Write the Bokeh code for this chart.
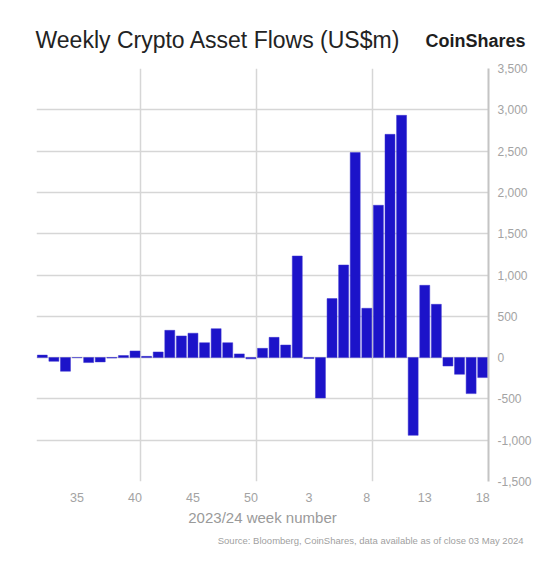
from bokeh.plotting import figure
from bokeh.models import FixedTicker, NumeralTickFormatter, Label, Range1d, ColumnDataSource, Title
from bokeh.embed import file_html
from bokeh.resources import INLINE

# ---- data ----
weeks = [32, 33, 34, 35, 36, 37, 38, 39, 40, 41, 42, 43, 44, 45, 46, 47, 48, 49, 50, 51, 52,
         1, 2, 3, 4, 5, 6, 7, 8, 9, 10, 11, 12, 13, 14, 15, 16, 17, 18]
flows = [30, -45, -165, 0, -60, -52, -5, 25, 80, 15, 68, 330, 262, 295, 180, 350, 180, 45, -15, 112, 245,
         152, 1230, -12, -489, 714, 1121, 2482, 597, 1844, 2703, 2933, -941, 875, 645, -102, -202, -436, -242]
tick_weeks = [35, 40, 45, 50, 3, 8, 13, 18]
y_ticks = [-1500, -1000, -500, 0, 500, 1000, 1500, 2000, 2500, 3000, 3500]
title_text = "Weekly Crypto Asset Flows (US$m)"
brand_text = "CoinShares"
x_title = "2023/24 week number"
source_text = "Source: Bloomberg, CoinShares, data available as of close 03 May 2024"

idx = list(range(len(weeks)))
src = ColumnDataSource(dict(x=idx, top=flows, week=weeks))

tick_idx = []
for w in tick_weeks:
    cands = [i for i, wk in enumerate(weeks) if wk == w]
    tick_idx.append(cands[0])

FONT = "Liberation Sans"
GRID = "#d6d6d6"
LABEL = "#a3a3a3"

p = figure(width=552, height=553, output_backend="svg", toolbar_location=None,
           y_axis_location="right",
           x_range=Range1d(-0.5, len(weeks) - 0.5), y_range=Range1d(-1500, 3500),
           min_border_left=36, min_border_right=64, min_border_top=68, min_border_bottom=72)
p.frame_width = 452
p.frame_height = 413
p.outline_line_color = None
p.background_fill_color = "white"
p.border_fill_color = "white"

p.vbar(x="x", top="top", bottom=0, width=0.86, source=src,
       fill_color="#1c13c9", line_color="#3a33d0", line_width=0.5)

ya = p.yaxis[0]
ya.ticker = FixedTicker(ticks=y_ticks)
ya.formatter = NumeralTickFormatter(format="0,0")
ya.axis_line_color = "#c4c4c4"
ya.axis_line_width = 2
ya.major_tick_line_color = None
ya.minor_tick_line_color = None
ya.major_label_standoff = 3
ya.major_label_text_color = LABEL
ya.major_label_text_font = FONT
ya.major_label_text_font_size = "12px"

xa = p.xaxis[0]
xa.ticker = FixedTicker(ticks=tick_idx)
xa.major_label_overrides = {i: str(weeks[i]) for i in tick_idx}
xa.axis_line_color = None
xa.major_tick_line_color = None
xa.minor_tick_line_color = None
xa.major_label_standoff = 5
xa.major_label_text_color = LABEL
xa.major_label_text_font = FONT
xa.major_label_text_font_size = "12.5px"
xa.axis_label = x_title
xa.axis_label_text_color = "#9a9a9a"
xa.axis_label_text_font = FONT
xa.axis_label_text_font_size = "15px"
xa.axis_label_text_font_style = "normal"
xa.axis_label_standoff = 4

p.ygrid.ticker = FixedTicker(ticks=y_ticks)
p.ygrid.grid_line_color = GRID
p.ygrid.grid_line_width = 1.5
p.xgrid.ticker = FixedTicker(ticks=[8.5, 18.5, 28.5])
p.xgrid.grid_line_color = GRID
p.xgrid.grid_line_width = 1.5

p.title.text = title_text
p.title.align = "left"
p.title.text_font = FONT
p.title.text_font_size = "23px"
p.title.text_font_style = "normal"
p.title.text_color = "#232323"
p.title.standoff = -9
p.title.offset = -1

p.add_layout(Title(text=source_text, align="right", text_font=FONT, text_font_size="9.5px",
                   text_font_style="normal", text_color="#9f9f9f", offset=-35, standoff=8), "below")

p.add_layout(Label(x=489, y=28, x_units="screen", y_units="screen", text=brand_text,
                   text_font=FONT, text_font_size="18px", text_font_style="bold", text_color="#1e1e1e",
                   text_baseline="alphabetic", text_align="right"), "above")

open("out.html", "w").write(file_html(p, INLINE))
